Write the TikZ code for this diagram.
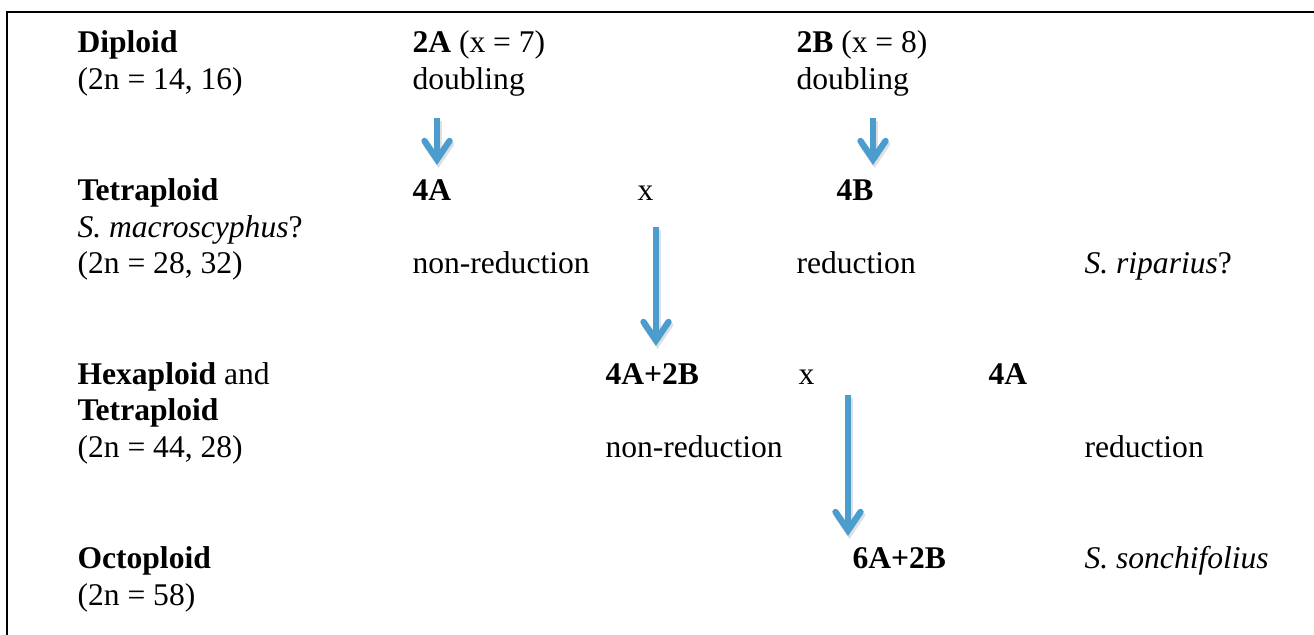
\documentclass[tikz,border=0pt]{standalone}
\usepackage{fontspec}
\setmainfont{Liberation Serif}
\usetikzlibrary{arrows.meta}
\definecolor{ArrowBlue}{RGB}{75,157,206}
\tikzset{
  txt/.style={anchor=base west, inner sep=0pt, font=\fontsize{12}{14.4}\selectfont},
  bluearrow/.style={ArrowBlue, line width=2.4pt, -{Straight Barb[length=7pt, width=9.5pt, line cap=round]}},
  shadowarrow/.style={black!25, line width=2.4pt, opacity=0.5, -{Straight Barb[length=7pt, width=9.5pt, line cap=round]}}
}

\begin{document}
\begin{tikzpicture}[x=0.38pt, y=-0.38pt]
            \useasboundingbox (0,0) rectangle (1314,635);
            \clip (0,0) rectangle (1314,635);
            \draw[line width=0.8pt] (7,12) rectangle (1340,660);

            % row labels
            \node[txt] (dip) at (77,53) {\textbf{Diploid}};
            \node[txt] (dipn) at (77,90) {(2n = 14, 16)};
            \node[txt] (tet) at (77,201) {\textbf{Tetraploid}};
            \node[txt] (mac) at (77,238) {\textit{S. macroscyphus}?};
            \node[txt] (tetn) at (77,274) {(2n = 28, 32)};
            \node[txt] (hex) at (77,384) {\textbf{Hexaploid} and};
            \node[txt] (hextet) at (77,421) {\textbf{Tetraploid}};
            \node[txt] (hexn) at (77,457) {(2n = 44, 28)};
            \node[txt] (oct) at (77,568) {\textbf{Octoploid}};
            \node[txt] (octn) at (77,605) {(2n = 58)};

            % diploid genomes
            \node[txt] (twoA) at (412,53) {\textbf{2A} (x = 7)};
            \node[txt] (dblA) at (412,90) {doubling};
            \node[txt] (twoB) at (796,53) {\textbf{2B} (x = 8)};
            \node[txt] (dblB) at (796,90) {doubling};

            % tetraploids
            \node[txt] (fourA) at (412,201) {\textbf{4A}};
            \node[txt] (crossA) at (637,201) {x};
            \node[txt] (fourB) at (836,201) {\textbf{4B}};
            \node[txt] (nonredA) at (412,274) {non-reduction};
            \node[txt] (redB) at (796,274) {reduction};
            \node[txt] (rip) at (1084,274) {\textit{S. riparius}?};

            % hexaploid x tetraploid
            \node[txt] (hexAB) at (605,384) {\textbf{4A+2B}};
            \node[txt] (crossB) at (798,384) {x};
            \node[txt] (fourAb) at (988,384) {\textbf{4A}};
            \node[txt] (nonredAB) at (605,457) {non-reduction};
            \node[txt] (redA) at (1084,457) {reduction};

            % octoploid
            \node[txt] (octAB) at (852,568) {\textbf{6A+2B}};
            \node[txt] (son) at (1084,568) {\textit{S. sonchifolius}};

            % arrow ends
            \coordinate (a1s) at (437,118);
            \coordinate (a1e) at (437,165);
            \coordinate (a2s) at (873,118);
            \coordinate (a2e) at (873,165);
            \coordinate (a3s) at (656,227);
            \coordinate (a3e) at (656,346);
            \coordinate (a4s) at (848,395);
            \coordinate (a4e) at (848,536);

            \foreach \s/\e in {a1s/a1e, a2s/a2e, a3s/a3e, a4s/a4e} {
                \draw[shadowarrow] ([shift={(1.5,3)}]\s) -- ([shift={(1.5,3)}]\e);
                \draw[bluearrow] (\s) -- (\e);
            }
        \end{tikzpicture}
\end{document}
